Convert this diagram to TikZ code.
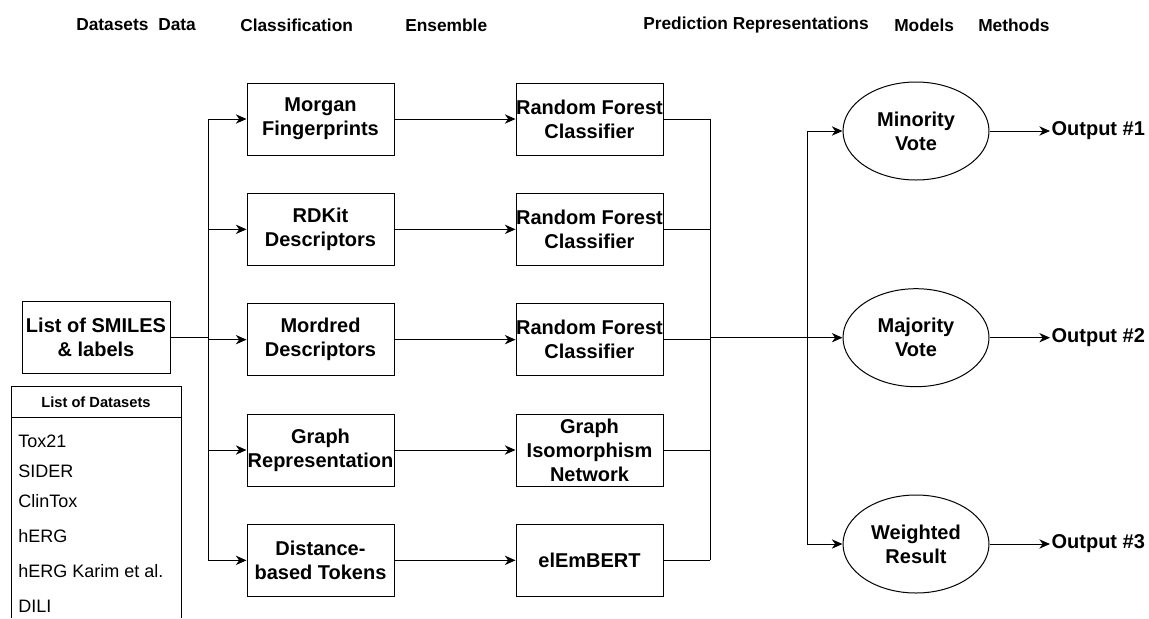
\documentclass[tikz,border=0pt]{standalone}
\usepackage{fontspec}
\setmainfont{Liberation Sans}
\usetikzlibrary{shapes.geometric,arrows.meta,positioning,calc}

\begin{document}
\begin{tikzpicture}[
    x=0.75pt, y=0.75pt,
    box/.style={rectangle, draw, line width=0.75pt, minimum height=54pt, minimum width=110.25pt, inner xsep=0pt, inner ysep=0pt, align=center, font=\fontsize{15}{18}\selectfont\bfseries},
    feat/.style={box},
    model/.style={box},
    vote/.style={ellipse, draw, line width=0.75pt, minimum width=109.5pt, minimum height=73.5pt, inner sep=0pt, align=center, font=\fontsize{15}{18}\selectfont\bfseries},
    outtext/.style={anchor=west, inner sep=1pt, font=\fontsize{15}{18}\selectfont\bfseries},
    colhead/.style={anchor=west, inner sep=0pt, font=\fontsize{13}{15}\selectfont\bfseries},
    item/.style={anchor=west, inner sep=0pt, font=\fontsize{13.5}{16}\selectfont},
    wire/.style={line width=0.75pt},
    arr/.style={wire, -{Stealth[length=8pt, width=7pt, inset=2.5pt]}}
  ]
    \useasboundingbox (0,0) rectangle (1149,-618);

    \node[colhead] (hdatasets) at (76,-25) {Datasets};
    \node[colhead] (hdata) at (158,-25) {Data};
    \node[colhead] (hclass) at (240,-25) {Classification};
    \node[colhead] (hens) at (405,-25) {Ensemble};
    \node[colhead] (hpred) at (643,-25) {Prediction Representations};
    \node[colhead] (hmodels) at (894,-25) {Models};
    \node[colhead] (hmethods) at (978,-25) {Methods};

    \node[box, minimum width=111pt] (smiles) at (96,-337.7) {List of SMILES\\\& labels};

    \node[feat] (morgan) at (320.5,-119) {Morgan\\Fingerprints};
    \node[feat, below=28pt of morgan] (rdkit) {RDKit\\Descriptors};
    \node[feat, below=28pt of rdkit] (mordred) {Mordred\\Descriptors};
    \node[feat, below=28pt of mordred] (graph) {Graph\\Representation};
    \node[feat, below=28pt of graph] (tokens) {Distance-\\based Tokens};

    \node[model, right=90.75pt of morgan] (rf1) {Random Forest\\Classifier};
    \node[model, right=90.75pt of rdkit] (rf2) {Random Forest\\Classifier};
    \node[model, right=90.75pt of mordred] (rf3) {Random Forest\\Classifier};
    \node[model, right=90.75pt of graph] (gin) {Graph\\Isomorphism\\Network};
    \node[model, right=90.75pt of tokens] (elembert) {elEmBERT};

    \node[vote] (minority) at (916,-131) {Minority\\Vote};
    \node[vote] (majority) at (916,-337.7) {Majority\\Vote};
    \node[vote] (weighted) at (916,-544) {Weighted\\Result};

    \node[outtext] (out1) at (1050,-131) {Output \#1};
    \node[outtext] (out2) at (1050,-337.7) {Output \#2};
    \node[outtext] (out3) at (1050,-544) {Output \#3};

    \coordinate (split) at (208,-337.7);
    \coordinate (join) at (710,-337.7);
    \coordinate (fan) at (807,-337.7);

    \draw[wire] (smiles.east) -- (split);
    \draw[wire] (split |- morgan.west) -- (split |- tokens.west);
    \foreach \n in {morgan,rdkit,mordred,graph,tokens}
      \draw[arr] (split |- \n.west) -- (\n.west);

    \foreach \a/\b in {morgan/rf1, rdkit/rf2, mordred/rf3, graph/gin, tokens/elembert}
      \draw[arr] (\a) -- (\b);

    \foreach \n in {rf1,rf2,rf3,gin,elembert}
      \draw[wire] (\n.east) -- (join |- \n.east);
    \draw[wire] (join |- rf1.east) -- (join |- elembert.east);
    \draw[wire] (join) -- (fan);
    \draw[wire] (fan |- minority.west) -- (fan |- weighted.west);
    \foreach \n in {minority,majority,weighted}
      \draw[arr] (fan |- \n.west) -- (\n.west);

    \foreach \a/\b in {minority/out1, majority/out2, weighted/out3}
      \draw[arr] (\a.east) -- (\b.west);

    \coordinate (tabtl) at (11,-386);
    \coordinate (tabtr) at (181,-386);
    \draw[wire] (tabtl |- 0,-618) -- (tabtl) -- (tabtr) -- (tabtr |- 0,-618);
    \draw[wire] (11,-417) -- (181,-417);
    \node[font=\fontsize{11}{13}\selectfont\bfseries, inner sep=0pt] (tabtitle) at (96,-402) {List of Datasets};
    \node[item] (tox) at (18,-441) {Tox21};
    \node[item] (sider) at (18,-471) {SIDER};
    \node[item] (clintox) at (18,-501) {ClinTox};
    \node[item] (herg) at (18,-536) {hERG};
    \node[item] (karim) at (18,-571) {hERG Karim et al.};
    \node[item] (dili) at (18,-606) {DILI};
\end{tikzpicture}
\end{document}
